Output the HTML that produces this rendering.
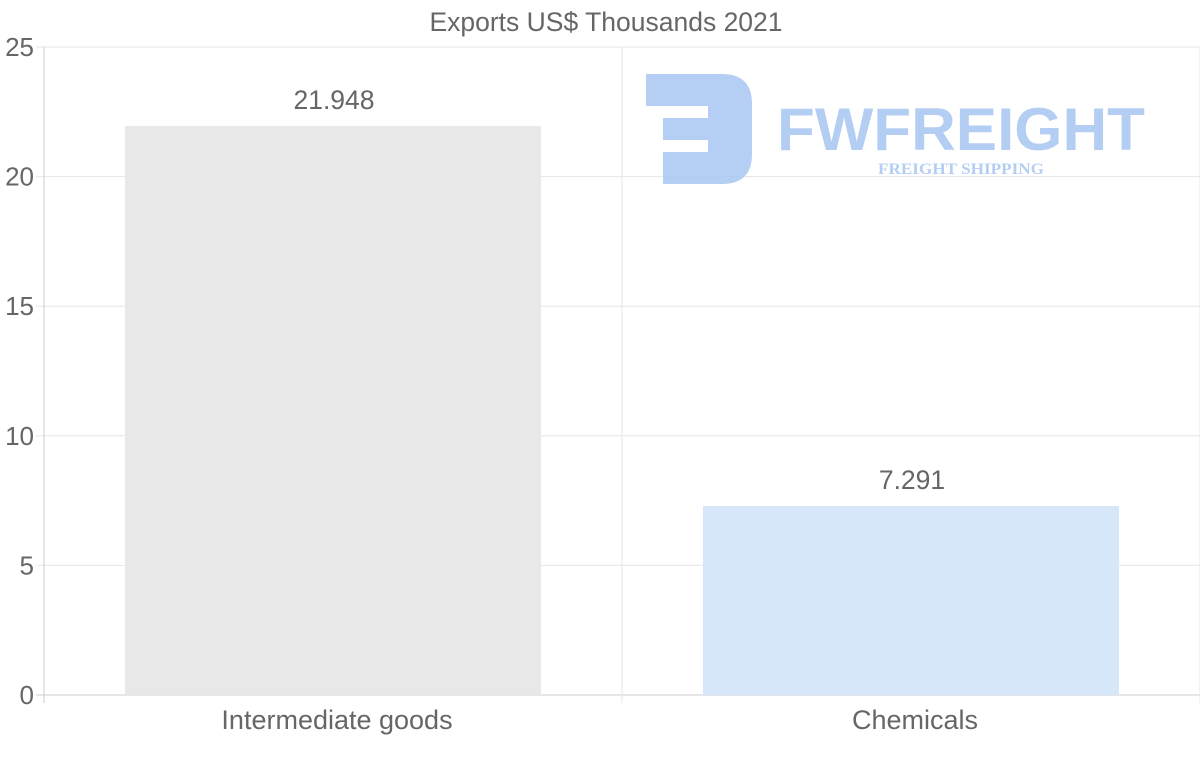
<!DOCTYPE html>
<html><head><meta charset="utf-8"><style>
html,body{margin:0;padding:0;background:#fff;}
svg{display:block;font-family:"Liberation Sans",sans-serif;}
</style></head><body>
<svg id="chart" width="1200" height="763">
<g id="grid"></g>
<g id="logo" opacity="0.85">
  <path d="M660,74 H722 Q752,74 752,104 V154 Q752,184 722,184 H663 V152 H708 V140 H663 V118 H708 V106 H646 V74 Z" fill="#a8c6f2"/>
  <text x="777" y="150" font-size="60" font-weight="bold" fill="#a8c6f2" textLength="368" lengthAdjust="spacingAndGlyphs">FWFREIGHT</text>
  <text x="878" y="174" font-family="Liberation Serif,serif" font-size="16" font-weight="bold" fill="#a8c6f2" textLength="166" lengthAdjust="spacingAndGlyphs">FREIGHT SHIPPING</text>
</g>
<g id="bars"></g>
<g id="axes"></g>
<text x="606" y="31" text-anchor="middle" font-size="26.5" fill="#666">Exports US$ Thousands 2021</text>
</svg>
<script>
const categories = ["Intermediate goods", "Chemicals"];
const values = [21.948, 7.291];
const valueLabels = ["21.948", "7.291"];
const yTicks = [0, 5, 10, 15, 20, 25];
const barColors = ["#e8e8e8", "#d6e7f9"];

const NS = "http://www.w3.org/2000/svg";
const L = 44, R = 1200, T = 47, B = 695, yMax = 25;
const bandW = (R - L) / categories.length;
const y = v => B - (v / yMax) * (B - T);
const xBand = i => L + i * bandW;
function mk(tag, attrs, parent, text) {
  const e = document.createElementNS(NS, tag);
  for (const k in attrs) e.setAttribute(k, attrs[k]);
  if (text !== undefined) e.textContent = text;
  parent.appendChild(e);
  return e;
}
const grid = document.getElementById("grid");
const axes = document.getElementById("axes");
const bars = document.getElementById("bars");
yTicks.forEach(t => {
  const gl = mk("line", {x1: L - 8, x2: R, y1: y(t), y2: y(t), stroke: t === 0 ? "#ccc" : "#e6e6e6", "stroke-width": 1}, grid);
  
  
  const tl = mk("text", {x: 34, y: y(t) + 9, "text-anchor": "end", "font-size": 26, fill: "#666"}, axes, String(t));
  
  
});
for (let i = 0; i <= categories.length; i++) {
  const vl = mk("line", {x1: xBand(i), x2: xBand(i), y1: T, y2: B + 8, stroke: i === 0 ? "#ccc" : "#e6e6e6", "stroke-width": 1}, grid);
  
  
}
categories.forEach((c, i) => {
  const bw = bandW * 0.72;
  const bx = xBand(i) + (bandW - bw) / 2;
  const r = mk("rect", {x: bx, y: y(values[i]), width: bw, height: B - y(values[i]), fill: barColors[i]}, bars);
  
  
  const vl = mk("text", {x: xBand(i) + bandW / 2 + 1, y: y(values[i]) - 17, "text-anchor": "middle", "font-size": 26.5, fill: "#666"}, axes, valueLabels[i]);
  
  
  const cl = mk("text", {x: xBand(i) + bandW / 2 + 4, y: 729, "text-anchor": "middle", "font-size": 27, fill: "#666"}, axes, c);
  
  
});
</script>
</body></html>
